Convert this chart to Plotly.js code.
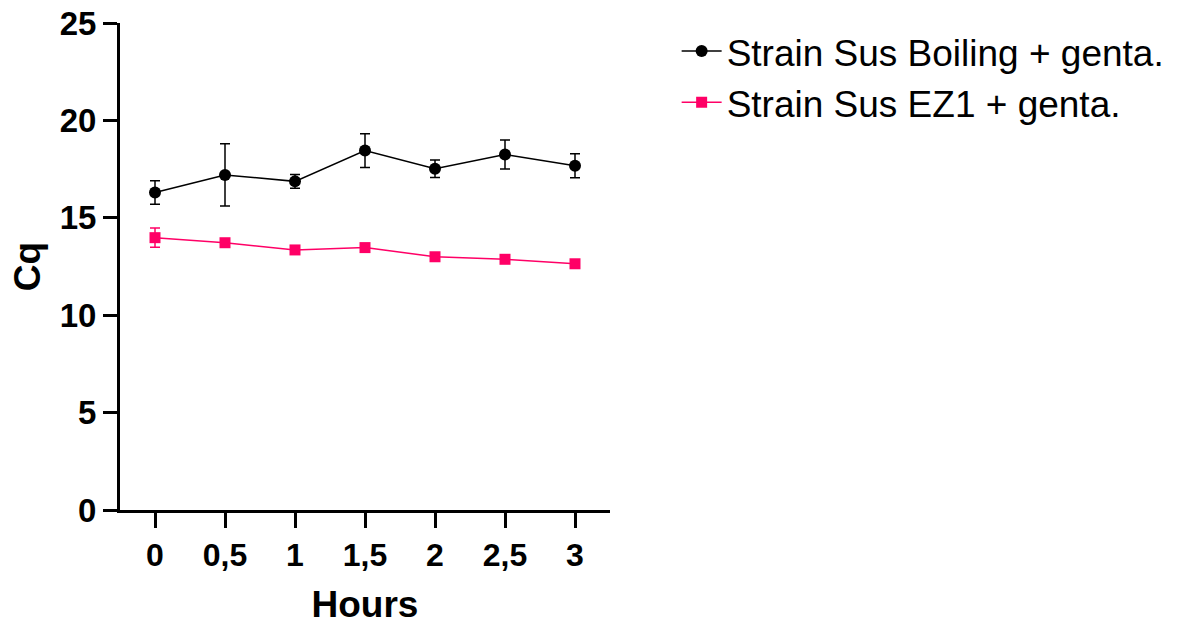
<!DOCTYPE html>
<html>
<head>
<meta charset="utf-8">
<script src="https://cdn.plot.ly/plotly-3.0.1.min.js"></script>
<style>html,body{margin:0;padding:0;background:#fff;} #chart{width:1181px;height:625px;}</style>
</head>
<body>
<div id="chart"></div>
<script>
const hours = [0, 0.5, 1, 1.5, 2, 2.5, 3];
const hourLabels = ['0', '0,5', '1', '1,5', '2', '2,5', '3'];
const boilingMean = [16.3, 17.2, 16.87, 18.45, 17.52, 18.25, 17.67];
const boilingErr = [0.6, 1.6, 0.35, 0.87, 0.45, 0.74, 0.62];
const ez1Mean = [13.98, 13.72, 13.35, 13.47, 13.0, 12.87, 12.64];
const ez1Err = [0.49, 0.15, 0.15, 0.15, 0.15, 0.15, 0.15];
const yTicks = [0, 5, 10, 15, 20, 25];

const pink = '#FF0066';
const traces = [
  {
    x: hours, y: boilingMean, name: 'Strain Sus Boiling + genta.',
    type: 'scatter', mode: 'lines+markers',
    line: {color: '#000', width: 1.5},
    marker: {symbol: 'circle', size: 12, color: '#000'},
    error_y: {type: 'data', array: boilingErr, visible: true, color: '#000', thickness: 1.5, width: 5}
  },
  {
    x: hours, y: ez1Mean, name: 'Strain Sus EZ1 + genta.',
    type: 'scatter', mode: 'lines+markers',
    line: {color: pink, width: 1.5},
    marker: {symbol: 'square', size: 11, color: pink},
    error_y: {type: 'data', array: ez1Err, visible: true, color: pink, thickness: 1.5, width: 5}
  }
];

const boldFont = {family: 'Liberation Sans, Arial, sans-serif', size: 37, color: '#000', weight: 'bold'};
const layout = {
  width: 1181, height: 625,
  paper_bgcolor: '#fff', plot_bgcolor: '#fff',
  margin: {l: 120, r: 571, t: 23, b: 115, autoexpand: false},
  showlegend: true,
  legend: {
    x: 1.136, y: 1.005, xanchor: 'left', yanchor: 'top',
    font: {family: 'Liberation Sans, Arial, sans-serif', size: 37, color: '#000'},
    bgcolor: 'rgba(0,0,0,0)', tracegroupgap: 0, itemwidth: 40
  },
  xaxis: {
    range: [-0.25, 3.25], tickvals: hours, ticktext: hourLabels,
    showgrid: false, zeroline: false, showline: true, linecolor: '#000', linewidth: 3,
    ticks: 'outside', ticklen: 15, tickwidth: 3, tickcolor: '#000',
    tickfont: {family: 'Liberation Sans, Arial, sans-serif', size: 32, color: '#000', weight: 'bold'},
    title: {text: 'Hours', font: boldFont, standoff: 20},
    automargin: false, fixedrange: true
  },
  yaxis: {
    range: [0, 25], tickvals: yTicks,
    showgrid: false, zeroline: false, showline: true, linecolor: '#000', linewidth: 3,
    ticks: 'outside', ticklen: 14, tickwidth: 3, tickcolor: '#000',
    tickfont: {family: 'Liberation Sans, Arial, sans-serif', size: 33, color: '#000', weight: 'bold'},
    title: {text: 'Cq', font: boldFont, standoff: 8},
    automargin: false, fixedrange: true
  }
};
Plotly.newPlot('chart', traces, layout, {displayModeBar: false, staticPlot: true});
</script>
</body>
</html>
